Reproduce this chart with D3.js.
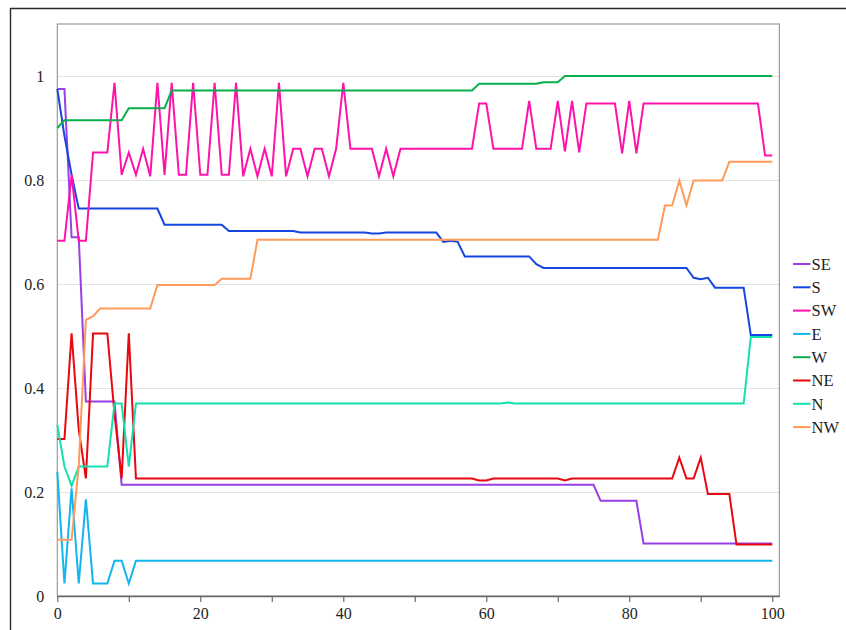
<!DOCTYPE html>
<html>
<head>
<meta charset="utf-8">
<script src="https://cdn.jsdelivr.net/npm/d3@7"></script>
<style>
  html, body { margin: 0; padding: 0; background: #fff; }
  svg { display: block; }
</style>
</head>
<body>
<svg id="chart" width="846" height="630"></svg>
<script>
// Share of each direction per step, 0..100
const steps = d3.range(0, 101);

const seriesNames = ["SE", "S", "SW", "E", "W", "NE", "N", "NW"];
const seriesColors = ["#9a3fe6", "#1447e0", "#ff12aa", "#12b5ef", "#0aae4c", "#e8070f", "#14e0ae", "#ff9a5a"];

const seSeries = [
  0.975,0.975,0.690,0.690,0.374,0.374,0.374,0.374,0.374,0.214,
  0.214,0.214,0.214,0.214,0.214,0.214,0.214,0.214,0.214,0.214,
  0.214,0.214,0.214,0.214,0.214,0.214,0.214,0.214,0.214,0.214,
  0.214,0.214,0.214,0.214,0.214,0.214,0.214,0.214,0.214,0.214,
  0.214,0.214,0.214,0.214,0.214,0.214,0.214,0.214,0.214,0.214,
  0.214,0.214,0.214,0.214,0.214,0.214,0.214,0.214,0.214,0.214,
  0.214,0.214,0.214,0.214,0.214,0.214,0.214,0.214,0.214,0.214,
  0.214,0.214,0.214,0.214,0.214,0.214,0.183,0.183,0.183,0.183,
  0.183,0.183,0.101,0.101,0.101,0.101,0.101,0.101,0.101,0.101,
  0.101,0.101,0.101,0.101,0.101,0.101,0.101,0.101,0.101,0.101,
  0.101
];

const sSeries = [
  0.975,0.885,0.810,0.745,0.745,0.745,0.745,0.745,0.745,0.745,
  0.745,0.745,0.745,0.745,0.745,0.714,0.714,0.714,0.714,0.714,
  0.714,0.714,0.714,0.714,0.702,0.702,0.702,0.702,0.702,0.702,
  0.702,0.702,0.702,0.702,0.699,0.699,0.699,0.699,0.699,0.699,
  0.699,0.699,0.699,0.699,0.697,0.697,0.699,0.699,0.699,0.699,
  0.699,0.699,0.699,0.699,0.681,0.683,0.681,0.653,0.653,0.653,
  0.653,0.653,0.653,0.653,0.653,0.653,0.653,0.638,0.631,0.631,
  0.631,0.631,0.631,0.631,0.631,0.631,0.631,0.631,0.631,0.631,
  0.631,0.631,0.631,0.631,0.631,0.631,0.631,0.631,0.631,0.612,
  0.609,0.612,0.593,0.593,0.593,0.593,0.593,0.502,0.502,0.502,
  0.502
];

const swSeries = [
  0.683,0.683,0.810,0.683,0.683,0.853,0.853,0.853,0.987,0.810,
  0.853,0.810,0.860,0.807,0.987,0.810,0.987,0.810,0.810,0.987,
  0.810,0.810,0.987,0.810,0.810,0.987,0.807,0.860,0.807,0.860,
  0.807,0.987,0.807,0.860,0.860,0.807,0.860,0.860,0.807,0.860,
  0.987,0.860,0.860,0.860,0.860,0.807,0.860,0.807,0.860,0.860,
  0.860,0.860,0.860,0.860,0.860,0.860,0.860,0.860,0.860,0.947,
  0.947,0.860,0.860,0.860,0.860,0.860,0.952,0.860,0.860,0.860,
  0.952,0.855,0.952,0.853,0.947,0.947,0.947,0.947,0.947,0.851,
  0.952,0.851,0.947,0.947,0.947,0.947,0.947,0.947,0.947,0.947,
  0.947,0.947,0.947,0.947,0.947,0.947,0.947,0.947,0.947,0.847,
  0.847
];

const eSeries = [
  0.239,0.024,0.207,0.024,0.186,0.024,0.024,0.024,0.068,0.068,
  0.024,0.068,0.068,0.068,0.068,0.068,0.068,0.068,0.068,0.068,
  0.068,0.068,0.068,0.068,0.068,0.068,0.068,0.068,0.068,0.068,
  0.068,0.068,0.068,0.068,0.068,0.068,0.068,0.068,0.068,0.068,
  0.068,0.068,0.068,0.068,0.068,0.068,0.068,0.068,0.068,0.068,
  0.068,0.068,0.068,0.068,0.068,0.068,0.068,0.068,0.068,0.068,
  0.068,0.068,0.068,0.068,0.068,0.068,0.068,0.068,0.068,0.068,
  0.068,0.068,0.068,0.068,0.068,0.068,0.068,0.068,0.068,0.068,
  0.068,0.068,0.068,0.068,0.068,0.068,0.068,0.068,0.068,0.068,
  0.068,0.068,0.068,0.068,0.068,0.068,0.068,0.068,0.068,0.068,
  0.068
];

const wSeries = [
  0.900,0.915,0.915,0.915,0.915,0.915,0.915,0.915,0.915,0.915,
  0.938,0.938,0.938,0.938,0.938,0.938,0.972,0.972,0.972,0.972,
  0.972,0.972,0.972,0.972,0.972,0.972,0.972,0.972,0.972,0.972,
  0.972,0.972,0.972,0.972,0.972,0.972,0.972,0.972,0.972,0.972,
  0.972,0.972,0.972,0.972,0.972,0.972,0.972,0.972,0.972,0.972,
  0.972,0.972,0.972,0.972,0.972,0.972,0.972,0.972,0.972,0.985,
  0.985,0.985,0.985,0.985,0.985,0.985,0.985,0.985,0.988,0.988,
  0.988,1.000,1.000,1.000,1.000,1.000,1.000,1.000,1.000,1.000,
  1.000,1.000,1.000,1.000,1.000,1.000,1.000,1.000,1.000,1.000,
  1.000,1.000,1.000,1.000,1.000,1.000,1.000,1.000,1.000,1.000,
  1.000
];

const neSeries = [
  0.302,0.302,0.505,0.320,0.226,0.505,0.505,0.505,0.350,0.226,
  0.505,0.226,0.226,0.226,0.226,0.226,0.226,0.226,0.226,0.226,
  0.226,0.226,0.226,0.226,0.226,0.226,0.226,0.226,0.226,0.226,
  0.226,0.226,0.226,0.226,0.226,0.226,0.226,0.226,0.226,0.226,
  0.226,0.226,0.226,0.226,0.226,0.226,0.226,0.226,0.226,0.226,
  0.226,0.226,0.226,0.226,0.226,0.226,0.226,0.226,0.226,0.222,
  0.222,0.226,0.226,0.226,0.226,0.226,0.226,0.226,0.226,0.226,
  0.226,0.222,0.226,0.226,0.226,0.226,0.226,0.226,0.226,0.226,
  0.226,0.226,0.226,0.226,0.226,0.226,0.226,0.266,0.226,0.226,
  0.266,0.196,0.196,0.196,0.196,0.099,0.099,0.099,0.099,0.099,
  0.099
];

const nSeries = [
  0.329,0.249,0.212,0.249,0.249,0.249,0.249,0.249,0.370,0.370,
  0.249,0.370,0.370,0.370,0.370,0.370,0.370,0.370,0.370,0.370,
  0.370,0.370,0.370,0.370,0.370,0.370,0.370,0.370,0.370,0.370,
  0.370,0.370,0.370,0.370,0.370,0.370,0.370,0.370,0.370,0.370,
  0.370,0.370,0.370,0.370,0.370,0.370,0.370,0.370,0.370,0.370,
  0.370,0.370,0.370,0.370,0.370,0.370,0.370,0.370,0.370,0.370,
  0.370,0.370,0.370,0.372,0.370,0.370,0.370,0.370,0.370,0.370,
  0.370,0.370,0.370,0.370,0.370,0.370,0.370,0.370,0.370,0.370,
  0.370,0.370,0.370,0.370,0.370,0.370,0.370,0.370,0.370,0.370,
  0.370,0.370,0.370,0.370,0.370,0.370,0.370,0.498,0.498,0.498,
  0.498
];

const nwSeries = [
  0.108,0.108,0.108,0.250,0.531,0.538,0.553,0.553,0.553,0.553,
  0.553,0.553,0.553,0.553,0.598,0.598,0.598,0.598,0.598,0.598,
  0.598,0.598,0.598,0.610,0.610,0.610,0.610,0.610,0.685,0.685,
  0.685,0.685,0.685,0.685,0.685,0.685,0.685,0.685,0.685,0.685,
  0.685,0.685,0.685,0.685,0.685,0.685,0.685,0.685,0.685,0.685,
  0.685,0.685,0.685,0.685,0.685,0.685,0.685,0.685,0.685,0.685,
  0.685,0.685,0.685,0.685,0.685,0.685,0.685,0.685,0.685,0.685,
  0.685,0.685,0.685,0.685,0.685,0.685,0.685,0.685,0.685,0.685,
  0.685,0.685,0.685,0.685,0.685,0.751,0.751,0.799,0.751,0.799,
  0.799,0.799,0.799,0.799,0.835,0.835,0.835,0.835,0.835,0.835,
  0.835
];

const seriesValues = [seSeries, sSeries, swSeries, eSeries, wSeries, neSeries, nSeries, nwSeries];

const xMajorTicks = [0, 20, 40, 60, 80, 100];
const xMinorTicks = [10, 30, 50, 70, 90];
const yTicks = [0, 0.2, 0.4, 0.6, 0.8, 1];
const yTickLabels = ["0", "0.2", "0.4", "0.6", "0.8", "1"];

const serifFont = "'Liberation Serif', serif";
const textColor = "#1d1d1d";

const svg = d3.select("#chart");

const plot = { left: 57.3, right: 779.4, top: 24, bottom: 596 };
const x = d3.scaleLinear().domain([0, 101]).range([plot.left, plot.right]);
const y = d3.scaleLinear().domain([0, 1.1]).range([plot.bottom, plot.top]);

// outer page frame (top and left rules)
svg.append("line").attr("x1", 10).attr("x2", 846).attr("y1", 8.5).attr("y2", 8.5)
  .attr("stroke", "#2a2a2a").attr("stroke-width", 1.4);
svg.append("line").attr("x1", 10.5).attr("x2", 10.5).attr("y1", 8).attr("y2", 630)
  .attr("stroke", "#2a2a2a").attr("stroke-width", 1.4);

// horizontal grid
svg.append("g").selectAll("line")
  .data(yTicks.filter(d => d > 0))
  .join("line")
  .attr("x1", plot.left).attr("x2", plot.right)
  .attr("y1", d => Math.round(y(d)) + 0.5).attr("y2", d => Math.round(y(d)) + 0.5)
  .attr("stroke", "#e3e3e3").attr("stroke-width", 1);

// plot frame
svg.append("rect")
  .attr("x", plot.left).attr("y", plot.top)
  .attr("width", plot.right - plot.left).attr("height", plot.bottom - plot.top)
  .attr("fill", "none").attr("stroke", "#9c9c9c").attr("stroke-width", 1.2);

// x axis: labelled majors plus unlabelled minors
const xAxis = svg.append("g").attr("transform", `translate(0,${plot.bottom})`)
  .call(d3.axisBottom(x).tickValues(xMajorTicks).tickSize(6).tickSizeOuter(0).tickPadding(6)
    .tickFormat(d3.format("d")));
xAxis.attr("font-family", serifFont);
xAxis.select(".domain").attr("stroke", "#6a6a6a").attr("stroke-width", 1.3);
xAxis.selectAll(".tick line").attr("stroke", "#6a6a6a").attr("stroke-width", 1.2);
xAxis.selectAll(".tick text")
  .style("font-family", serifFont).style("font-size", "16px").style("fill", textColor);

const xMinor = svg.append("g").attr("transform", `translate(0,${plot.bottom})`)
  .call(d3.axisBottom(x).tickValues(xMinorTicks).tickSize(6).tickSizeOuter(0).tickFormat(""));
xMinor.select(".domain").remove();
xMinor.selectAll(".tick line").attr("stroke", "#6a6a6a").attr("stroke-width", 1.2);

// y axis labels only
const yAxis = svg.append("g").attr("transform", `translate(${plot.left},0)`)
  .call(d3.axisLeft(y).tickValues(yTicks).tickSize(0).tickPadding(13)
    .tickFormat((d, i) => yTickLabels[i]));
yAxis.attr("font-family", serifFont);
yAxis.select(".domain").remove();
yAxis.selectAll(".tick text")
  .style("font-family", serifFont).style("font-size", "16px").style("fill", textColor);

// series lines
const line = d3.line()
  .x((d, i) => x(steps[i]))
  .y(d => y(d));

svg.append("g").selectAll("path")
  .data(seriesValues)
  .join("path")
  .attr("d", d => line(d))
  .attr("fill", "none")
  .attr("stroke", (d, i) => seriesColors[i])
  .attr("stroke-width", 2);

// legend
const legend = svg.append("g").attr("transform", "translate(793,264)");
const rows = legend.selectAll("g")
  .data(seriesNames)
  .join("g")
  .attr("transform", (d, i) => `translate(0,${i * 23.3})`);
rows.append("line")
  .attr("x1", 0).attr("x2", 17.5).attr("y1", 0).attr("y2", 0)
  .attr("stroke", (d, i) => seriesColors[i]).attr("stroke-width", 2);
rows.append("text")
  .attr("x", 18.5).attr("y", 0).attr("dy", "0.35em")
  .style("font-family", serifFont).style("font-size", "16.5px").style("fill", textColor)
  .text(d => d);
</script>
</body>
</html>
